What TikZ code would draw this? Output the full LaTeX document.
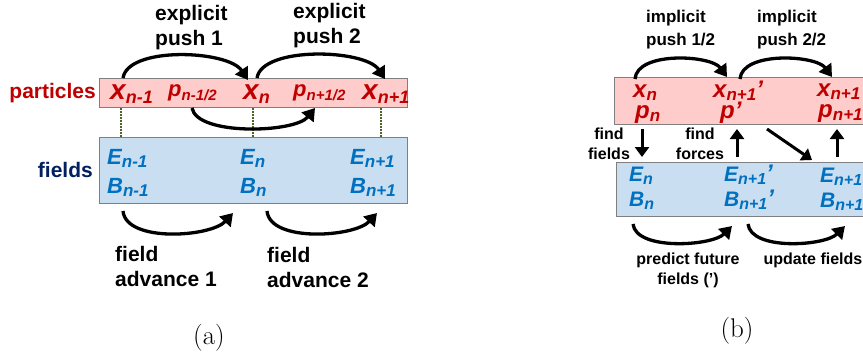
\documentclass[tikz,border=0pt]{standalone}
\usepackage{fontspec}
\newfontfamily\lab{Liberation Sans}
\usetikzlibrary{arrows.meta}
\definecolor{pfill}{HTML}{FFCCCC}
\definecolor{bfill}{HTML}{CADEF1}
\definecolor{pred}{HTML}{C00000}
\definecolor{fblue}{HTML}{0070C0}
\definecolor{navy}{HTML}{002060}
\definecolor{boxgray}{HTML}{7F7F7F}
\definecolor{dotgreen}{HTML}{4F6228}
\newcommand\VV[5]{{\fontsize{#1}{#1}\selectfont #3}\raisebox{-#5}{\fontsize{#2}{#2}\selectfont #4}}
\newcommand\prm{{\fontsize{24}{24}\selectfont ’}}
\tikzset{
  box/.style={draw=boxgray, line width=1pt, inner sep=0pt, anchor=north west},
  arr/.style={line width=3.3pt, -{Triangle[length=12pt,width=15pt]}},
  sarr/.style={line width=3pt, -{Triangle[length=10pt,width=14pt]}},
  varP/.style={text=pred, font=\lab\bfseries\itshape, inner sep=0pt, anchor=base west},
  varF/.style={text=fblue, font=\lab\bfseries\itshape, inner sep=0pt, anchor=base west},
  lbl/.style={font=\lab\bfseries\fontsize{21}{25}\selectfont, align=left, inner sep=0pt},
  slbl/.style={font=\lab\bfseries\fontsize{16}{20}\selectfont, align=center, inner sep=0pt},
  dots/.style={dotgreen, line width=1.2pt, dash pattern=on 1.5pt off 1.5pt}
}
\begin{document}
\begin{tikzpicture}[x=1pt,y=-1pt]
\useasboundingbox (0,0) rectangle (863,360);
\clip (0,0) rectangle (863,360);
% ---------- panel (a)
\node[box, fill=pfill, minimum width=308pt, minimum height=29pt] (pboxA) at (99,78) {};
\node[box, fill=bfill, minimum width=308pt, minimum height=66pt] (fboxA) at (99,137) {};
\node[lbl, text=pred, anchor=east] (plab) at (96,93) {particles};
\node[lbl, text=navy, anchor=east] (flab) at (93,170) {fields};

\node[varP] (xa1) at (110,99) {\VV{28}{18}{x}{n-1}{4pt}};
\node[varP] (pa1) at (168,96) {\VV{22}{15}{p}{n-1/2}{4pt}};
\node[varP] (xa2) at (243,99) {\VV{28}{18}{x}{n}{4pt}};
\node[varP] (pa2) at (293,96) {\VV{22}{15}{p}{n+1/2}{4pt}};
\node[varP] (xa3) at (362,99) {\VV{28}{18}{x}{n+1}{4pt}};

\node[varF] (ea1) at (107,164) {\VV{22}{17}{E}{n-1}{3pt}};
\node[varF] (ba1) at (107,193) {\VV{22}{17}{B}{n-1}{3pt}};
\node[varF] (ea2) at (240,164) {\VV{22}{17}{E}{n}{3pt}};
\node[varF] (ba2) at (240,193) {\VV{22}{17}{B}{n}{3pt}};
\node[varF] (ea3) at (350,164) {\VV{22}{17}{E}{n+1}{3pt}};
\node[varF] (ba3) at (350,193) {\VV{22}{17}{B}{n+1}{3pt}};

\draw[dots] ([xshift=11pt]xa1.base west |- pboxA.south) -- ([xshift=11pt]xa1.base west |- fboxA.north);
\draw[dots] ([xshift=10pt]xa2.base west |- pboxA.south) -- ([xshift=10pt]xa2.base west |- fboxA.north);
\draw[dots] ([xshift=19pt]xa3.base west |- pboxA.south) -- ([xshift=19pt]xa3.base west |- fboxA.north);

\node[lbl, anchor=north west] (ep1) at (155,5) {explicit\\push 1};
\node[lbl, anchor=north west] (ep2) at (293,3) {explicit\\push 2};
\node[lbl, anchor=north west] (fa1) at (115,246) {field\\advance 1};
\node[lbl, anchor=north west] (fa2) at (267,247) {field\\advance 2};
\node[font=\fontsize{27}{27}\selectfont, inner sep=0pt] (capa) at (209,338) {(a)};

\draw[arr] ([xshift=13pt]xa1.base west |- pboxA.north) .. controls +(5,-32) and +(-20,-30) .. ([xshift=5pt,yshift=-2pt]xa2.base west |- pboxA.north);
\draw[arr] ([xshift=14pt]xa2.base west |- pboxA.north) .. controls +(5,-32) and +(-20,-30) .. ([xshift=23pt,yshift=-1pt]xa3.base west |- pboxA.north);
\draw[arr] ([xshift=24pt]pa1.base west |- pboxA.south) .. controls +(5,28) and +(-20,25) .. ([xshift=22pt]pa2.base west |- pboxA.south);
\draw[arr] ([xshift=16pt,yshift=-7pt]ba1.base west |- fboxA.south) .. controls +(3,32) and +(-22,24) .. ([xshift=-7pt,yshift=-9pt]ea2.base west |- fboxA.south);
\draw[arr] ([xshift=27pt,yshift=-7pt]ba2.base west |- fboxA.south) .. controls +(3,32) and +(-22,24) .. ([xshift=27pt,yshift=-9pt]ea3.base west |- fboxA.south);

% ---------- panel (b)
\node[box, fill=pfill, minimum width=300pt, minimum height=47pt] (pboxB) at (614,77) {};
\node[box, fill=bfill, minimum width=300pt, minimum height=54pt] (fboxB) at (616,162) {};

\node[varP] (xb1) at (633,97) {\VV{24}{17}{x}{n}{3pt}};
\node[varP] (pb1) at (635,118) {\VV{24}{17}{p}{n}{3pt}};
\node[varP] (xb2) at (713,97) {\VV{24}{17}{x}{n+1}{3pt}\prm};
\node[varP] (pb2) at (720,118) {{\fontsize{24}{24}\selectfont p’}};
\node[varP] (xb3) at (817,96) {\VV{24}{17}{x}{n+1}{3pt}};
\node[varP] (pb3) at (818,117) {\VV{24}{17}{p}{n+1}{3pt}};

\node[varF] (eb1) at (629,181) {\VV{21}{16}{E}{n}{3pt}};
\node[varF] (bb1) at (629,206) {\VV{21}{16}{B}{n}{3pt}};
\node[varF] (eb2) at (724,181) {\VV{21}{16}{E}{n+1}{3pt}\prm};
\node[varF] (bb2) at (724,206) {\VV{21}{16}{B}{n+1}{3pt}\prm};
\node[varF] (eb3) at (820,182) {\VV{21}{16}{E}{n+1}{3pt}};
\node[varF] (bb3) at (820,207) {\VV{21}{16}{B}{n+1}{3pt}};

\node[lbl, font=\lab\bfseries\fontsize{17}{22.5}\selectfont, anchor=north west] (ip1) at (646,10) {implicit\\push 1/2};
\node[lbl, font=\lab\bfseries\fontsize{17}{22.5}\selectfont, anchor=north west] (ip2) at (757,10) {implicit\\push 2/2};
\node[slbl] (ff) at (609,144) {find\\fields};
\node[slbl] (fo) at (700,144) {find\\forces};
\node[slbl] (pf) at (688,270) {predict future\\fields (’)};
\node[slbl] (uf) at (813,260) {update fields};
\node[font=\fontsize{27}{27}\selectfont, inner sep=0pt] (capb) at (737,331) {(b)};

\draw[arr] ([xshift=2pt,yshift=-2pt]xb1.base west |- pboxB.north) .. controls +(2,-28) and +(-16,-22) .. ([xshift=14pt]xb2.base west |- pboxB.north);
\draw[arr] ([xshift=27pt,yshift=-2pt]xb2.base west |- pboxB.north) .. controls +(2,-28) and +(-16,-22) .. ([xshift=15pt]xb3.base west |- pboxB.north);
\draw[sarr] ([xshift=7pt,yshift=-4pt]pb1.base west |- pboxB.south) -- ([xshift=7pt,yshift=5pt]pb1.base west |- fboxB.north);
\draw[sarr] ([xshift=17pt,yshift=5pt]pb2.base west |- fboxB.north) -- ([xshift=17pt,yshift=-4pt]pb2.base west |- pboxB.south);
\draw[sarr] ([xshift=47pt,yshift=-4pt]pb2.base west |- pboxB.south) -- ([xshift=-8pt,yshift=2pt]eb3.base west |- fboxB.north);
\draw[sarr] ([xshift=17pt,yshift=5pt]eb3.base west |- fboxB.north) -- ([xshift=17pt,yshift=-4pt]eb3.base west |- pboxB.south);
\draw[arr] ([xshift=4pt,yshift=-7pt]bb1.base west |- fboxB.south) .. controls +(3,27) and +(-20,20) .. ([xshift=8pt,yshift=-9pt]bb2.base west |- fboxB.south);
\draw[arr] ([xshift=24pt,yshift=-7pt]bb2.base west |- fboxB.south) .. controls +(3,27) and +(-20,20) .. ([xshift=25pt,yshift=-9pt]bb3.base west |- fboxB.south);
\end{tikzpicture}
\end{document}
